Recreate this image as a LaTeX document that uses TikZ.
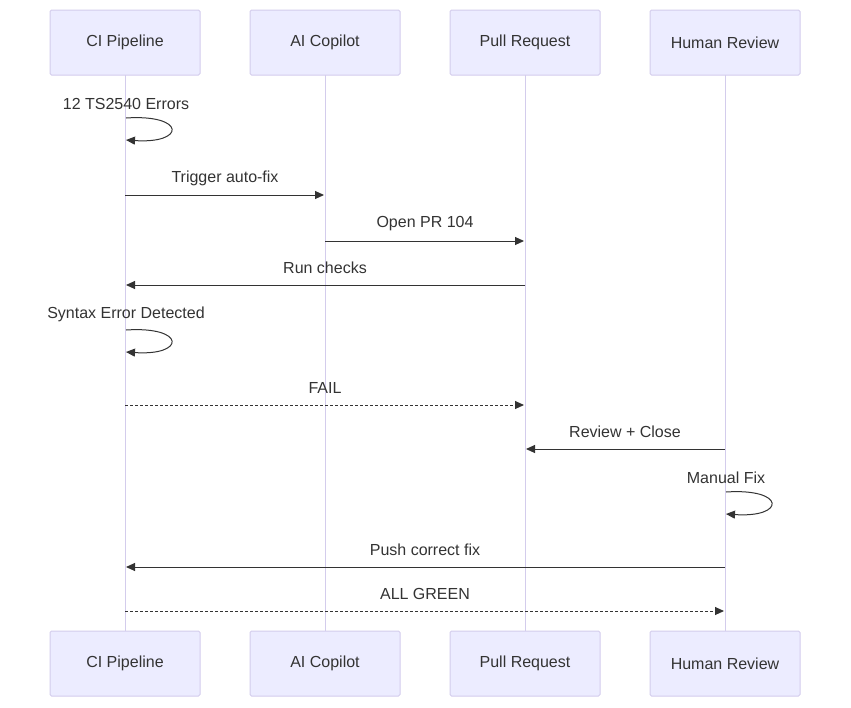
\documentclass[tikz,border=0pt]{standalone}
\usepackage{fontspec}
\setmainfont{Liberation Sans}
\usetikzlibrary{arrows.meta}
\definecolor{actfill}{HTML}{ECECFF}
\definecolor{actline}{HTML}{D3CCEC}
\definecolor{txt}{HTML}{333333}
\tikzset{
  actor/.style={draw=actline, fill=actfill, rounded corners=1.5pt, line width=1pt,
    minimum width=150pt, minimum height=65pt, text=txt, font=\fontsize{16}{19}\selectfont},
  msg/.style={draw=txt, line width=1pt, -{Triangle[length=9pt,width=8pt]}},
  dmsg/.style={msg, dash pattern=on 3pt off 2pt},
  lbl/.style={text=txt, font=\fontsize{16}{19}\selectfont},
  selfloop/.style={draw=txt, line width=1pt, -{Triangle[length=9pt,width=8pt]}}
}
\begin{document}
\begin{tikzpicture}[x=1pt,y=-1pt]
  \useasboundingbox (0,0) rectangle (851,707);
  % actors
  \foreach \n/\x/\t in {ci/125/CI Pipeline, ai/325/AI Copilot, pr/525/Pull Request, hr/725/Human Review}{
    \draw[actline, line width=1pt] (\x,75) -- (\x,631);
    \node[actor] (\n top) at (\x,42.5) {\t};
    \node[actor] (\n bot) at (\x,663.5) {\t};
  }
  % self messages
  \node[lbl] (l1) at (126,104) {12 TS2540 Errors};
  \coordinate (s1a) at (126,118); \coordinate (s1b) at (126,140);
  \draw[selfloop] (s1a) .. controls (186,114) and (186,144) .. (s1b);
  \node[lbl] (l5) at (126,314) {Syntax Error Detected};
  \coordinate (s2a) at (126,330); \coordinate (s2b) at (126,352);
  \draw[selfloop] (s2a) .. controls (186,326) and (186,356) .. (s2b);
  \node[lbl] (l8) at (726,478) {Manual Fix};
  \coordinate (s3a) at (726,492); \coordinate (s3b) at (726,514);
  \draw[selfloop] (s3a) .. controls (786,488) and (786,518) .. (s3b);
  % messages
  \foreach \a/\b/\y/\t/\s in {125/325/195/Trigger auto-fix/msg, 325/525/241/Open PR 104/msg,
      525/125/285/Run checks/msg, 125/525/405/FAIL/dmsg, 725/525/449/Review + Close/msg,
      725/125/567/Push correct fix/msg, 125/725/611/ALL GREEN/dmsg}{
    \coordinate (m\y a) at (\a,\y);
    \coordinate (m\y b) at ({\b+(\a<\b ? -1 : 1)},\y);
    \draw[\s] (m\y a) -- (m\y b);
    \node[lbl] (t\y) at ({(\a+\b)/2},\y-17) {\t};
  }
\end{tikzpicture}
\end{document}
